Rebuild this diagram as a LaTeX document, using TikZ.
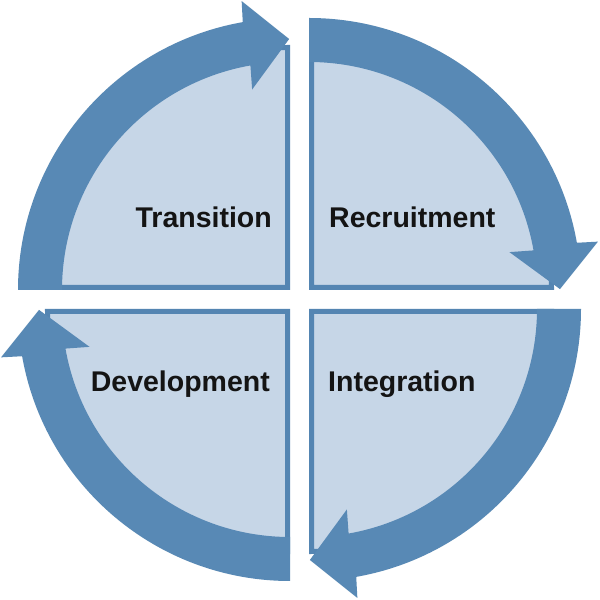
\documentclass[tikz,border=0pt]{standalone}
\usepackage{fontspec}
\setmainfont{Liberation Sans}
\definecolor{bandblue}{RGB}{88,137,181}
\definecolor{edgeblue}{RGB}{84,133,178}
\definecolor{fillblue}{RGB}{198,214,231}
\begin{document}
\begin{tikzpicture}[x=1pt,y=1pt,
  sectorbox/.style={fill=fillblue,draw=edgeblue,line width=5pt,line join=miter},
  bandarrow/.style={fill=bandblue},
  lbl/.style={inner sep=0pt,font=\bfseries\fontsize{28.5}{30}\selectfont,text=black!92}]
\useasboundingbox (0,0) rectangle (600,600);
\fill[white] (0,0) rectangle (600,600);
\coordinate (ctr) at (299.5,300.5);
\foreach \cx/\cy/\rot in {309/310/0, 309/291/-90, 290/291/-180, 290/310/90}{
  \begin{scope}[shift={(\cx,\cy)},rotate=\rot]
    \filldraw[sectorbox] (2.5,2.5) -- ++(0,240) arc[start angle=90,end angle=0,radius=240pt] -- cycle;
    \fill[bandarrow] (90:272pt) arc[start angle=90,end angle=10,radius=272pt]
      -- (9.5:293pt) -- (0.2:251pt) -- (10.7:204pt) -- (10:228pt)
      arc[start angle=10,end angle=90,radius=228pt] -- cycle;
  \end{scope}
}
\node[lbl,anchor=base east] (transition) at (272,372) {Transition};
\node[lbl,anchor=base west] (recruitment) at (329,372) {Recruitment};
\node[lbl,anchor=base east] (development) at (270,208) {Development};
\node[lbl,anchor=base west] (integration) at (328,208) {Integration};
\end{tikzpicture}
\end{document}
